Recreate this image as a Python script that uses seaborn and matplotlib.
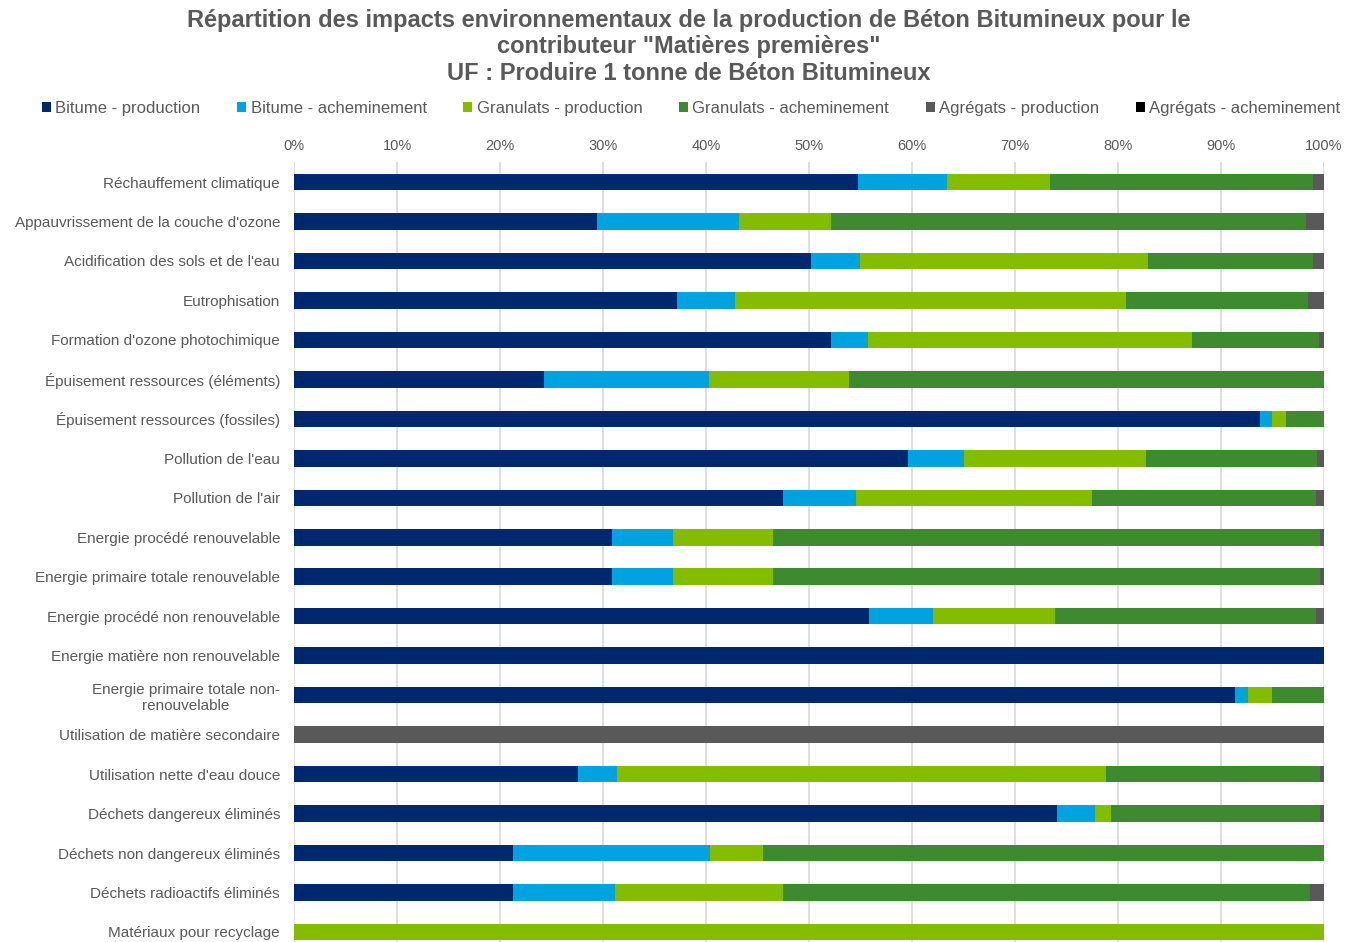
import numpy as np
import pandas as pd
import seaborn as sns
import matplotlib
matplotlib.use("Agg")
import matplotlib.pyplot as plt
from matplotlib.patches import Patch
from matplotlib.ticker import PercentFormatter

categories = [
    "Réchauffement climatique",
    "Appauvrissement de la couche d'ozone",
    "Acidification des sols et de l'eau",
    "Eutrophisation",
    "Formation d'ozone photochimique",
    "Épuisement ressources (éléments)",
    "Épuisement ressources (fossiles)",
    "Pollution de l'eau",
    "Pollution de l'air",
    "Energie procédé renouvelable",
    "Energie primaire totale renouvelable",
    "Energie procédé non renouvelable",
    "Energie matière non renouvelable",
    "Energie primaire totale non-\nrenouvelable",
    "Utilisation de matière secondaire",
    "Utilisation nette d'eau douce",
    "Déchets dangereux éliminés",
    "Déchets non dangereux éliminés",
    "Déchets radioactifs éliminés",
    "Matériaux pour recyclage",
]

series_names = [
    "Bitume - production",
    "Bitume - acheminement",
    "Granulats - production",
    "Granulats - acheminement",
    "Agrégats - production",
    "Agrégats - acheminement",
]

bitume_production = [54.8, 29.4, 50.2, 37.2, 52.1, 24.3, 93.8, 59.6, 47.5, 30.9,
                     30.9, 55.8, 100.0, 91.4, 0.0, 27.6, 74.1, 21.3, 21.3, 0.0]
bitume_acheminement = [8.6, 13.8, 4.7, 5.6, 3.6, 16.0, 1.1, 5.4, 7.1, 5.9,
                       5.9, 6.2, 0.0, 1.2, 0.0, 3.8, 3.7, 19.1, 9.9, 0.0]
granulats_production = [10.0, 8.9, 28.0, 38.0, 31.5, 13.6, 1.4, 17.7, 22.9, 9.7,
                        9.7, 11.9, 0.0, 2.3, 0.0, 47.4, 1.5, 5.1, 16.3, 100.0]
granulats_acheminement = [25.5, 46.1, 16.0, 17.6, 12.3, 46.1, 3.7, 16.6, 21.7, 53.1,
                          53.1, 25.3, 0.0, 5.1, 0.0, 20.8, 20.3, 54.5, 51.1, 0.0]
agregats_production = [1.1, 1.8, 1.1, 1.6, 0.5, 0.0, 0.0, 0.7, 0.8, 0.4,
                       0.4, 0.8, 0.0, 0.0, 100.0, 0.4, 0.4, 0.0, 1.4, 0.0]
agregats_acheminement = [0.0] * 20

colors = ["#00286F", "#00A3E0", "#84BC00", "#3E8A2F", "#595959", "#000000"]

df = pd.DataFrame({
    "categorie": categories,
    series_names[0]: bitume_production,
    series_names[1]: bitume_acheminement,
    series_names[2]: granulats_production,
    series_names[3]: granulats_acheminement,
    series_names[4]: agregats_production,
    series_names[5]: agregats_acheminement,
})

sns.set_theme(style="white")
plt.rcParams["font.family"] = ["Liberation Sans", "DejaVu Sans"]

fig = plt.figure(figsize=(13.58, 9.42), dpi=100)
ax = fig.add_axes([0.2165, -0.0103, 0.7585, 0.838])

cum = df[series_names].cumsum(axis=1)
for i in range(len(series_names) - 1, -1, -1):
    sns.barplot(x=cum[series_names[i]], y=df["categorie"], orient="h",
                color=colors[i], width=0.42, saturation=1, linewidth=0, ax=ax)

ax.set_xlim(0, 100)
ax.set_ylim(len(categories) - 0.5, -0.5)
ax.xaxis.set_major_locator(matplotlib.ticker.MultipleLocator(10))
ax.xaxis.set_major_formatter(PercentFormatter(decimals=0))
ax.xaxis.tick_top()
ax.set_xlabel("")
ax.set_ylabel("")
ax.set_axisbelow(True)
ax.grid(axis="x", color="#D9D9D9", linewidth=1.2)
ax.grid(axis="y", visible=False)
for s in ax.spines.values():
    s.set_visible(False)
ax.tick_params(axis="x", length=0, pad=7, labelsize=10.5, colors="#595959")
ax.tick_params(axis="y", length=0, pad=10, labelsize=11, colors="#595959")
for lab in ax.get_yticklabels():
    lab.set_horizontalalignment("right")
    lab.set_multialignment("center")

title_font = ["Liberation Sans Narrow", "Liberation Sans", "DejaVu Sans"]
fig.text(0.507, 0.990,
         "Répartition des impacts environnementaux de la production de Béton Bitumineux pour le\n"
         "contributeur \"Matières premières\"\nUF : Produire 1 tonne de Béton Bitumineux",
         ha="center", va="top", fontsize=17, fontweight="bold", color="#595959",
         family=title_font, linespacing=1.17)

handles = [Patch(facecolor=c, edgecolor="none") for c in colors]
fig.legend(handles, series_names, loc="center", bbox_to_anchor=(0.509, 0.885),
           ncol=6, frameon=False, fontsize=12, handlelength=0.55, handleheight=0.55,
           handletextpad=0.25, columnspacing=2.2, labelcolor="#595959")

fig.savefig("out.png", dpi=100)
